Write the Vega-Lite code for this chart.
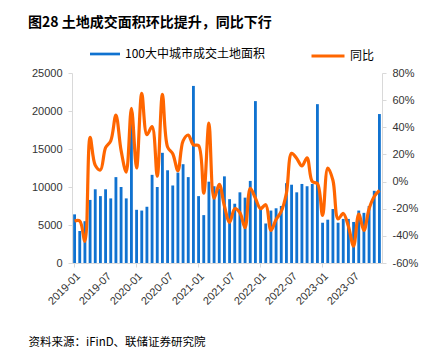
{
  "$schema": "https://vega.github.io/schema/vega-lite/v6.json",
  "width": 310,
  "height": 190,
  "autosize": {"type": "none"},
  "padding": {"left": 72, "top": 73, "right": 57, "bottom": 95},
  "background": "white",
  "title": {
    "text": "图28 土地成交面积环比提升，同比下行",
    "anchor": "start",
    "frame": "group",
    "orient": "top",
    "offset": 0,
    "dx": -44,
    "dy": 3,
    "font": "Noto Sans CJK SC",
    "fontSize": 14,
    "fontWeight": "bold",
    "color": "#000000",
    "baseline": "alphabetic"
  },
  "data": {
    "values": [
      {"m": "2019-01", "area": 6400, "yoy": -29},
      {"m": "2019-02", "area": 4200, "yoy": -29},
      {"m": "2019-03", "area": 5500, "yoy": -44},
      {"m": "2019-04", "area": 8300, "yoy": 32.5},
      {"m": "2019-05", "area": 9700, "yoy": 12},
      {"m": "2019-06", "area": 8800, "yoy": 8.5},
      {"m": "2019-07", "area": 9700, "yoy": 25},
      {"m": "2019-08", "area": 8500, "yoy": 30},
      {"m": "2019-09", "area": 11300, "yoy": 49},
      {"m": "2019-10", "area": 10000, "yoy": 23},
      {"m": "2019-11", "area": 8500, "yoy": 7},
      {"m": "2019-12", "area": 18400, "yoy": 54},
      {"m": "2020-01", "area": 7000, "yoy": 10},
      {"m": "2020-02", "area": 6900, "yoy": 65},
      {"m": "2020-03", "area": 7400, "yoy": 34.5},
      {"m": "2020-04", "area": 11600, "yoy": 40.5},
      {"m": "2020-05", "area": 10000, "yoy": 4},
      {"m": "2020-06", "area": 14500, "yoy": 64.3},
      {"m": "2020-07", "area": 12200, "yoy": 25.5},
      {"m": "2020-08", "area": 10200, "yoy": 20.5},
      {"m": "2020-09", "area": 11900, "yoy": 8},
      {"m": "2020-10", "area": 13000, "yoy": 30},
      {"m": "2020-11", "area": 11300, "yoy": 34.3},
      {"m": "2020-12", "area": 23300, "yoy": 27},
      {"m": "2021-01", "area": 8800, "yoy": 26.5},
      {"m": "2021-02", "area": 6300, "yoy": -8.6},
      {"m": "2021-03", "area": 10700, "yoy": 43},
      {"m": "2021-04", "area": 10100, "yoy": -12.3},
      {"m": "2021-05", "area": 9800, "yoy": -2},
      {"m": "2021-06", "area": 11400, "yoy": -18},
      {"m": "2021-07", "area": 8400, "yoy": -30},
      {"m": "2021-08", "area": 7800, "yoy": -20},
      {"m": "2021-09", "area": 9300, "yoy": -23},
      {"m": "2021-10", "area": 8600, "yoy": -34},
      {"m": "2021-11", "area": 10800, "yoy": -5},
      {"m": "2021-12", "area": 21300, "yoy": -12.3},
      {"m": "2022-01", "area": 7400, "yoy": -20},
      {"m": "2022-02", "area": 5200, "yoy": -17},
      {"m": "2022-03", "area": 6900, "yoy": -36},
      {"m": "2022-04", "area": 7200, "yoy": -28},
      {"m": "2022-05", "area": 7500, "yoy": -22},
      {"m": "2022-06", "area": 10500, "yoy": -8.6},
      {"m": "2022-07", "area": 10300, "yoy": 20.8},
      {"m": "2022-08", "area": 9300, "yoy": 17},
      {"m": "2022-09", "area": 10400, "yoy": 11.5},
      {"m": "2022-10", "area": 10100, "yoy": 17.5},
      {"m": "2022-11", "area": 10400, "yoy": 0},
      {"m": "2022-12", "area": 20900, "yoy": -1.5},
      {"m": "2023-01", "area": 5300, "yoy": -25},
      {"m": "2023-02", "area": 5700, "yoy": 10},
      {"m": "2023-03", "area": 7100, "yoy": 1},
      {"m": "2023-04", "area": 5300, "yoy": -27.5},
      {"m": "2023-05", "area": 5800, "yoy": -23.5},
      {"m": "2023-06", "area": 5800, "yoy": -33},
      {"m": "2023-07", "area": 5400, "yoy": -47.5},
      {"m": "2023-08", "area": 6900, "yoy": -24},
      {"m": "2023-09", "area": 6600, "yoy": -36},
      {"m": "2023-10", "area": 7500, "yoy": -20},
      {"m": "2023-11", "area": 9500, "yoy": -11},
      {"m": "2023-12", "area": 19600, "yoy": -6.5}
    ]
  },
  "encoding": {
    "x": {
      "field": "m",
      "type": "ordinal",
      "sort": null,
      "scale": {"paddingInner": 0.45, "paddingOuter": 0.225},
      "axis": {
        "title": "资料来源：iFinD、联储证券研究院",
        "titleX": -44,
        "titleY": 82,
        "titleAlign": "left",
        "titleAnchor": "start",
        "titleAngle": 0,
        "titleBaseline": "alphabetic",
        "titleFont": "Noto Sans CJK SC",
        "titleFontSize": 11.5,
        "titleFontWeight": "normal",
        "titleColor": "#000000",
        "labelAngle": -45,
        "labelFont": "Liberation Sans",
        "labelFontSize": 11,
        "labelColor": "#333333",
        "labelOverlap": false,
        "labelBound": false,
        "labelPadding": 3,
        "labelExpr": "slice(datum.value,5)=='01' || slice(datum.value,5)=='07' ? datum.value : ''",
        "domainColor": "#d9d9d9",
        "tickColor": "#d9d9d9",
        "tickSize": 4,
        "tickOpacity": {"condition": {"test": "slice(datum.value,5)=='01'", "value": 1}, "value": 0}
      }
    }
  },
  "layer": [
    {
      "mark": {"type": "bar"},
      "encoding": {
        "y": {
          "field": "area",
          "type": "quantitative",
          "scale": {"domain": [0, 25000], "nice": false},
          "axis": {
            "orient": "left",
            "title": null,
            "values": [0, 5000, 10000, 15000, 20000, 25000],
            "format": "d",
            "grid": false,
            "labelFont": "Liberation Sans",
            "labelFontSize": 11,
            "labelColor": "#333333",
            "labelPadding": 6,
            "domainColor": "#d9d9d9",
            "tickColor": "#d9d9d9",
            "tickSize": 4
          }
        },
        "fill": {
          "datum": "100大中城市成交土地面积",
          "type": "nominal",
          "scale": {"range": ["#1072D0"]},
          "legend": {
            "orient": "none",
            "legendX": 18,
            "legendY": -34,
            "direction": "horizontal",
            "title": null,
            "padding": 0,
            "symbolType": "M-1,-0.09H1V0.09H-1Z",
            "symbolSize": 900,
            "symbolStrokeWidth": 0,
            "labelFont": "Noto Sans CJK SC",
            "labelFontSize": 12,
            "labelColor": "#000000",
            "labelOffset": 5
          }
        }
      }
    },
    {
      "mark": {"type": "line", "interpolate": "catmull-rom", "strokeWidth": 3.2},
      "encoding": {
        "y": {
          "field": "yoy",
          "type": "quantitative",
          "scale": {"domain": [-60, 80], "nice": false},
          "axis": {
            "orient": "right",
            "title": null,
            "values": [-60, -40, -20, 0, 20, 40, 60, 80],
            "labelExpr": "datum.value + '%'",
            "grid": false,
            "labelFont": "Liberation Sans",
            "labelFontSize": 11,
            "labelColor": "#333333",
            "labelPadding": 6,
            "domainColor": "#d9d9d9",
            "tickColor": "#d9d9d9",
            "tickSize": 4
          }
        },
        "stroke": {
          "datum": "同比",
          "type": "nominal",
          "scale": {"range": ["#FF6600"]},
          "legend": {
            "orient": "none",
            "legendX": 238,
            "legendY": -35,
            "direction": "horizontal",
            "title": null,
            "padding": 0,
            "symbolType": "stroke",
            "symbolSize": 1089,
            "symbolStrokeWidth": 3,
            "labelFont": "Noto Sans CJK SC",
            "labelFontSize": 12,
            "labelColor": "#000000",
            "labelOffset": 4
          }
        }
      }
    }
  ],
  "resolve": {"scale": {"y": "independent", "fill": "independent", "stroke": "independent"}},
  "config": {"view": {"stroke": null}}
}
